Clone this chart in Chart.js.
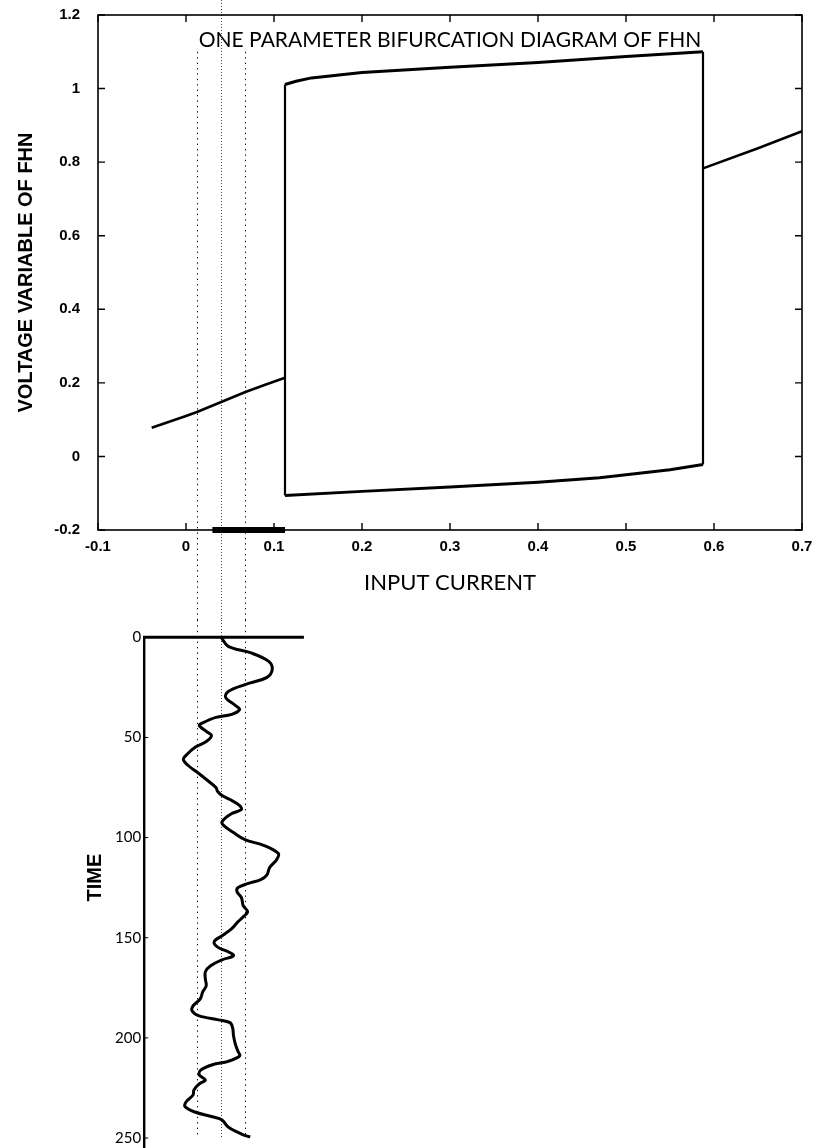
<!DOCTYPE html>
<html><head><meta charset="utf-8">
<script src="https://cdn.jsdelivr.net/npm/chart.js@4.4.0/dist/chart.umd.min.js"></script>
<style>
html,body{margin:0;padding:0;background:#fff;width:814px;height:1148px;overflow:hidden;}
.box{position:absolute;left:0;width:814px;}
</style></head><body>
<div class="box" style="top:0;height:620px"><canvas id="top" width="814" height="620"></canvas></div>
<div class="box" style="top:620px;height:528px"><canvas id="bot" width="814" height="528"></canvas></div>
<script>
// ---------- data ----------
const xTicks = [-0.1, 0, 0.1, 0.2, 0.3, 0.4, 0.5, 0.6, 0.7];
const yTicks = [-0.2, 0, 0.2, 0.4, 0.6, 0.8, 1, 1.2];
const timeTicks = [0, 50, 100, 150, 200, 250];

// stable rest state below the Hopf point
const lowBranchI = [-0.039, 0, 0.0125, 0.04, 0.0675, 0.09, 0.1125];
const lowBranchV = [0.078, 0.110, 0.121, 0.148, 0.175, 0.195, 0.214];
// stable excited state above the second Hopf point
const highBranchI = [0.5875, 0.65, 0.7];
const highBranchV = [0.783, 0.838, 0.884];
// limit cycle maximum / minimum
const orbitMaxI = [0.1125, 0.125, 0.1426, 0.2, 0.3, 0.4, 0.5, 0.5875];
const orbitMaxV = [1.011, 1.020, 1.029, 1.044, 1.058, 1.071, 1.087, 1.100];
const orbitMinI = [0.1125, 0.2, 0.3, 0.4, 0.47, 0.5, 0.55, 0.5875];
const orbitMinV = [-0.106, -0.095, -0.083, -0.070, -0.058, -0.050, -0.036, -0.022];
// noisy input: range bar on the current axis and mean / +-std markers
const noiseRangeI = [0.03, 0.1125];
const noiseMarkers = [0.0125, 0.04, 0.0675];
// time panel extent along the current axis
const timeFrameI = [-0.0475, 0.134];
// noisy input current over time
const noiseTime = [0, 4.5, 7.8, 12, 16, 20, 23.6, 27, 30, 34, 36, 38.5, 40, 42.7, 44, 47, 49, 52, 55, 58.5,
  61, 64, 67.6, 72, 75, 77, 79, 81, 84, 86, 88, 92, 94, 97.5, 101, 104, 108, 111, 115, 118.6,
  121, 123, 125, 127, 130, 134, 137, 139.6, 142, 145.5, 149, 152, 154.7, 157, 159, 161, 164, 167, 170.6, 174,
  177, 180.7, 184, 186.6, 189, 191, 192.4, 195, 199, 203, 206.7, 209, 211.7, 213.4, 216, 218.5, 221, 223, 226, 228.5,
  232, 234.4, 237, 239.4, 241, 244.5, 248, 249.5];
const noiseCurrent = [0.04, 0.048, 0.074, 0.094, 0.098, 0.092, 0.067, 0.048, 0.045, 0.056, 0.061, 0.052, 0.034, 0.019, 0.015, 0.023, 0.029, 0.023, 0.010, 0.001,
  -0.003, 0.0025, 0.0135, 0.026, 0.034, 0.036, 0.041, 0.050, 0.061, 0.063, 0.052, 0.041, 0.043, 0.054, 0.067, 0.089, 0.105, 0.103, 0.095, 0.092,
  0.085, 0.070, 0.059, 0.058, 0.063, 0.065, 0.070, 0.065, 0.059, 0.052, 0.041, 0.032, 0.036, 0.048, 0.054, 0.041, 0.028, 0.022, 0.022, 0.023,
  0.019, 0.016, 0.008, 0.007, 0.015, 0.037, 0.050, 0.053, 0.054, 0.056, 0.059, 0.061, 0.048, 0.030, 0.017, 0.015, 0.022, 0.015, 0.009, 0.008,
  0.000, -0.001, 0.010, 0.030, 0.041, 0.048, 0.063, 0.073];

// ---------- helpers ----------
const pts = (xs, ys) => xs.map((v, i) => ({x: v, y: ys[i]}));
const last = a => a[a.length - 1];
const X_MIN = -0.1, X_MAX = 0.7, PLOT_LEFT = 98, PLOT_RIGHT = 802;
const SANS = "'Liberation Sans', Arial, sans-serif";

Chart.defaults.color = '#000';
Chart.defaults.animation = false;

function line(data, width) {
  return {data, showLine: true, borderColor: '#000', borderWidth: width, pointRadius: 0,
          fill: false, clip: false, borderCapStyle: 'butt', borderJoinStyle: 'miter'};
}
function noPad(s) { s.paddingTop = 0; s.paddingBottom = 0; s.paddingLeft = 0; s.paddingRight = 0; }

function dotted(ctx, px, y0, y1, i) {
  ctx.setLineDash(i === 1 ? [1, 2] : [1.4, 4]);
  ctx.strokeStyle = i === 1 ? '#444' : '#111';
  ctx.lineWidth = 1;
  ctx.beginPath(); ctx.moveTo(px, y0); ctx.lineTo(px, y1); ctx.stroke();
}

// ---------- top chart ----------
const frameTop = {
  id: 'frameTop',
  beforeDatasetsDraw(chart) {
    const {ctx, scales: {x, y}} = chart;
    ctx.save();
    noiseMarkers.forEach((v, i) => {
      const px = Math.round(x.getPixelForValue(v)) + 0.5;
      dotted(ctx, px, i === 1 ? 0 : y.getPixelForValue(1.1), chart.height, i);
    });
    ctx.restore();
  },
  afterDatasetsDraw(chart) {
    const {ctx, chartArea: a, scales: {x, y}} = chart;
    ctx.save();
    ctx.strokeStyle = '#000';
    ctx.lineWidth = 1.6;
    ctx.strokeRect(a.left, a.top, a.right - a.left, a.bottom - a.top);
    ctx.lineWidth = 1.4;
    ctx.beginPath();
    xTicks.forEach(v => {
      const px = x.getPixelForValue(v);
      ctx.moveTo(px, a.bottom); ctx.lineTo(px, a.bottom - 7);
      ctx.moveTo(px, a.top); ctx.lineTo(px, a.top + 7);
    });
    yTicks.forEach(v => {
      const py = y.getPixelForValue(v);
      ctx.moveTo(a.left, py); ctx.lineTo(a.left + 7, py);
      ctx.moveTo(a.right, py); ctx.lineTo(a.right - 7, py);
    });
    ctx.stroke();
    ctx.restore();
  }
};

new Chart(document.getElementById('top'), {
  type: 'scatter',
  data: {datasets: [
    line(pts(lowBranchI, lowBranchV), 2.6),
    line(pts(highBranchI, highBranchV), 2.6),
    line(pts(orbitMaxI, orbitMaxV), 3),
    line(pts(orbitMinI, orbitMinV), 3),
    line([{x: orbitMinI[0], y: orbitMinV[0]}, {x: orbitMaxI[0], y: orbitMaxV[0]}], 2.2),
    line([{x: last(orbitMinI), y: last(orbitMinV)}, {x: last(orbitMaxI), y: last(orbitMaxV)}], 2.2),
    line(noiseRangeI.map(v => ({x: v, y: yTicks[0]})), 6)
  ]},
  options: {
    responsive: false,
    layout: {padding: {left: 0, right: 814 - PLOT_RIGHT, top: 0, bottom: 0}},
    plugins: {
      legend: {display: false},
      tooltip: {enabled: false},
      title: {display: true, fullSize: false, text: 'ONE PARAMETER BIFURCATION DIAGRAM OF FHN',
              font: {family: 'Lato', size: 21, weight: 'normal'}, color: '#000',
              padding: {top: 28, bottom: -38.2}}
    },
    scales: {
      x: {type: 'linear', min: X_MIN, max: X_MAX,
          grid: {display: false, drawTicks: false}, border: {display: false},
          afterBuildTicks: s => { s.ticks = xTicks.map(v => ({value: v})); },
          afterFit: s => { s.height = 90; noPad(s); },
          ticks: {autoSkip: false, maxRotation: 0, padding: 8, callback: v => String(v),
                  font: {family: SANS, size: 15, weight: 'bold'}},
          title: {display: true, text: 'INPUT CURRENT', font: {family: 'Lato', size: 22},
                  padding: {top: 0, bottom: 23.8}}},
      y: {type: 'linear', min: yTicks[0], max: last(yTicks),
          grid: {display: false, drawTicks: false}, border: {display: false},
          afterBuildTicks: s => { s.ticks = yTicks.map(v => ({value: v})); },
          afterFit: s => { s.width = PLOT_LEFT; noPad(s); },
          ticks: {padding: 18, callback: v => String(v),
                  font: {family: SANS, size: 15, weight: 'bold'}},
          title: {display: true, text: 'VOLTAGE VARIABLE OF FHN',
                  font: {family: SANS, size: 20, weight: 'bold'},
                  padding: {top: 14, bottom: 0}}}
    }
  },
  plugins: [frameTop]
});

// ---------- bottom chart ----------
const frameBot = {
  id: 'frameBot',
  beforeDatasetsDraw(chart) {
    const {ctx, scales: {x, y}} = chart;
    ctx.save();
    noiseMarkers.forEach((v, i) => {
      const px = Math.round(x.getPixelForValue(v)) + 0.5;
      dotted(ctx, px, 0, y.getPixelForValue(last(timeTicks)), i);
    });
    ctx.restore();
  },
  afterDatasetsDraw(chart) {
    const {ctx, scales: {x, y}} = chart;
    const y0 = y.getPixelForValue(timeTicks[0]);
    const xl = x.getPixelForValue(timeFrameI[0]);
    ctx.save();
    ctx.strokeStyle = '#000';
    ctx.lineWidth = 2.4;
    ctx.beginPath();
    ctx.moveTo(xl, y0); ctx.lineTo(xl, chart.height);
    ctx.stroke();
    ctx.lineWidth = 3;
    ctx.beginPath();
    ctx.moveTo(xl - 1.2, y0); ctx.lineTo(x.getPixelForValue(timeFrameI[1]), y0);
    ctx.stroke();
    ctx.lineWidth = 1;
    ctx.beginPath();
    timeTicks.slice(1).forEach(v => {
      const py = y.getPixelForValue(v);
      ctx.moveTo(xl, py); ctx.lineTo(xl + 4, py);
    });
    ctx.stroke();
    ctx.restore();
  }
};

const botWidth = PLOT_LEFT + (timeFrameI[0] - X_MIN) / (X_MAX - X_MIN) * (PLOT_RIGHT - PLOT_LEFT);

new Chart(document.getElementById('bot'), {
  type: 'scatter',
  data: {datasets: [
    Object.assign(line(pts(noiseCurrent, noiseTime), 3), {tension: 0.35})
  ]},
  options: {
    responsive: false,
    layout: {padding: {left: 0, right: 814 - PLOT_RIGHT, top: 17.3, bottom: 30}},
    plugins: {legend: {display: false}, tooltip: {enabled: false}},
    scales: {
      x: {type: 'linear', min: timeFrameI[0], max: X_MAX, display: false},
      y: {type: 'linear', min: 0, max: 240, reverse: true,
          grid: {display: false, drawTicks: false}, border: {display: false},
          afterBuildTicks: s => { s.ticks = timeTicks.map(v => ({value: v})); },
          afterFit: s => { s.width = botWidth; noPad(s); },
          ticks: {padding: 3, font: {family: 'Lato', size: 15}},
          title: {display: true, text: 'TIME', font: {family: SANS, size: 20, weight: 'bold'},
                  padding: {top: 83, bottom: 0}}}
    }
  },
  plugins: [frameBot]
});
</script>
</body></html>
